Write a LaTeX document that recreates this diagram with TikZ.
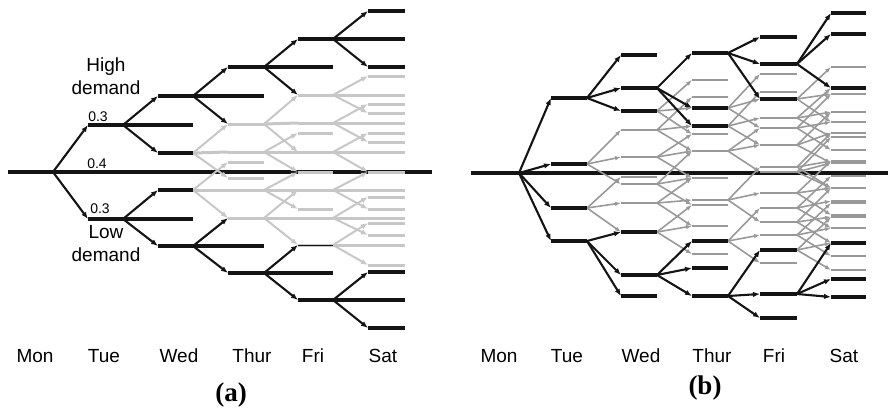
\documentclass[tikz,border=0pt]{standalone}
\usepackage{fontspec}
\setmainfont{Liberation Sans}
\newfontfamily\capfont{Liberation Serif}
\usetikzlibrary{arrows.meta}
\definecolor{lg}{gray}{0.78}
\definecolor{mg}{gray}{0.6}
\definecolor{bk}{gray}{0.08}
\tikzset{
  bseg/.style={draw=bk, line width=3.2pt},
  barr/.style={draw=bk, line width=2.1pt, -{Latex[length=7pt,width=5.5pt]}},
  gsegA/.style={draw=lg, line width=3pt},
  garrA/.style={draw=lg, line width=2pt, -{Latex[length=7pt,width=5.5pt]}},
  gsegB/.style={draw=mg, line width=2.4pt},
  garrB/.style={draw=mg, line width=1.6pt, -{Latex[length=6pt,width=4.5pt]}},
  daylbl/.style={font=\fontsize{19}{22}\selectfont, anchor=base},
  problbl/.style={font=\fontsize{14}{16}\selectfont},
  demlbl/.style={font=\fontsize{19}{23}\selectfont, align=center},
  caplbl/.style={font=\capfont\bfseries\fontsize{27}{30}\selectfont, anchor=base}
}
\begin{document}
\begin{tikzpicture}[x=1pt,y=-1pt]
\path[use as bounding box] (0,0) rectangle (889,410);

% ================= panel (a) =================
\coordinate (aM0) at (8,172);
\coordinate (aM1) at (432,172);
\coordinate (aR) at (53,172);
\foreach \y in {125,219} {\coordinate (aT\y-s) at (88,\y); \coordinate (aT\y-e) at (123,\y);}
\foreach \y in {96,125,153,190,219,246} {\coordinate (aW\y-s) at (158,\y); \coordinate (aW\y-e) at (193,\y);}
\foreach \y in {67,96,124,152,162,178,190,218,246,273} {\coordinate (aH\y-s) at (228,\y); \coordinate (aH\y-e) at (264,\y);}
\foreach \y in {39,67,95,123,133,152,172,190,209,218,245,273,300} {\coordinate (aF\y-s) at (298,\y); \coordinate (aF\y-e) at (333,\y);}
\foreach \y in {11,39,67,76,95,104,113,123,133,142,152,172,190,197,209,218,223,235,245,265,272,300,328} {\coordinate (aS\y-s) at (368,\y); \coordinate (aS\y-e) at (405,\y);}

\draw[bseg] (aM0) -- (aM1);

% gray lattice
\foreach \n in {H124,H152,H162,H178,H190,H218,F95,F123,F133,F152,F172,F190,F209,F218,F245,S76,S95,S104,S113,S123,S133,S142,S152,S172,S190,S197,S209,S218,S223,S235,S245,S265}
  \draw[gsegA] (a\n-s) -- (a\n-e);
\foreach \p/\c in {W153/H152,W190/H190,H124/F123,H152/F152,H190/F190,H218/F218,F95/S95,F123/S123,F152/S152,F190/S190,F218/S218,F245/S245}
  \draw[gsegA] (a\p-e) -- (a\c-s);
\foreach \p/\c in {W153/H124,W153/H178,W190/H162,W190/H218,H124/F95,H124/F152,H152/F133,H152/F172,H190/F172,H190/F209,H218/F190,H218/F245,F95/S76,F95/S113,F123/S104,F123/S142,F152/S133,F152/S172,F190/S172,F190/S209,F218/S197,F218/S235,F245/S223,F245/S265}
  \draw[garrA] (a\p-e) -- (a\c-s);

% black paths
\foreach \n in {T125,T219,W96,W125,W153,W190,W219,W246,H67,H96,H246,H273,F39,F67,F273,F300,S11,S39,S67,S272,S300,S328}
  \draw[bseg] (a\n-s) -- (a\n-e);
\draw[draw=bk, line width=1pt] (aF245-s) -- (aF245-e);
\foreach \p/\c in {T125/W125,T219/W219,W96/H96,W246/H246,H67/F67,H273/F273,F39/S39,F300/S300}
  \draw[bseg] (a\p-e) -- (a\c-s);
\draw[barr] (aR) -- (aT125-s);
\draw[barr] (aR) -- (aT219-s);
\foreach \p/\c in {T125/W96,T125/W153,T219/W190,T219/W246,W96/H67,W96/H124,W246/H218,W246/H273,H67/F39,H67/F95,H273/F245,H273/F300,F39/S11,F39/S67,F300/S272,F300/S328}
  \draw[barr] (a\p-e) -- (a\c-s);

% labels (a)
\node[demlbl] (aHigh) at (106,76) {High\\demand};
\node[problbl] (aP1) at (98,117) {0.3};
\node[problbl] (aP2) at (97,164) {0.4};
\node[problbl] (aP3) at (100,209) {0.3};
\node[demlbl] (aLow) at (106,244) {Low\\demand};

\node[daylbl] (aMon) at (35,362) {Mon};
\node[daylbl] (aTue) at (104,362) {Tue};
\node[daylbl] (aWed) at (179,362) {Wed};
\node[daylbl] (aThu) at (252,362) {Thur};
\node[daylbl] (aFri) at (313,362) {Fri};
\node[daylbl] (aSat) at (383,362) {Sat};
\node[caplbl] (aCap) at (231,401) {(a)};

% ================= panel (b) =================
\coordinate (bM0) at (471,173);
\coordinate (bM1) at (888,173);
\coordinate (bR) at (519,173);
\foreach \y in {98,164,208,241} {\coordinate (bT\y-s) at (551,\y); \coordinate (bT\y-e) at (587,\y);}
\foreach \y in {55,88,111,130,157,177,184,203,232,275,296} {\coordinate (bW\y-s) at (621,\y); \coordinate (bW\y-e) at (657,\y);}
\foreach \y in {53,80,97,108,126,134,151,178,200,205,226,241,254,268,296} {\coordinate (bH\y-s) at (692,\y); \coordinate (bH\y-e) at (728,\y);}
\foreach \y in {37,64,74,92,99,118,128,145,167,172,193,208,222,235,250,263,294,318} {\coordinate (bF\y-s) at (760,\y); \coordinate (bF\y-e) at (797,\y);}
\foreach \y in {13,34,67,88,94,112,122,133,137,150,161,163,176,188,201,203,215,217,228,243,256,270,279,297} {\coordinate (bS\y-s) at (831,\y); \coordinate (bS\y-e) at (866,\y);}

\draw[bseg] (bM0) -- (bM1);

% gray tree
\foreach \n in {W130,W157,W177,W184,W203,H80,H97,H134,H151,H178,H200,H205,H226,H254,F74,F92,F118,F128,F145,F167,F172,F193,F208,F222,F235,F263,S67,S94,S112,S122,S133,S137,S150,S161,S163,S176,S188,S201,S203,S215,S217,S228,S256,S270}
  \draw[gsegB] (b\n-s) -- (b\n-e);
\foreach \p/\c in {T164/W130,T164/W157,T164/W184,T208/W177,T208/W203,T208/W232,
  W111/H80,W111/H108,W111/H134,W130/H97,W130/H126,W130/H151,W157/H134,W157/H151,W157/H178,
  W184/H151,W184/H178,W184/H205,W203/H178,W203/H200,W203/H226,W232/H205,W232/H226,W232/H254,
  H108/F74,H108/F99,H108/F128,H126/F92,H126/F118,H126/F145,H151/F128,H151/F145,H151/F172,
  H200/F167,H200/F193,H200/F222,H241/F208,H241/F235,H241/F263,
  F99/S67,F99/S94,F99/S122,F118/S88,F118/S112,F118/S137,F128/S94,F128/S122,F128/S150,
  F145/S112,F145/S133,F145/S163,F167/S133,F167/S161,F167/S188,F172/S137,F172/S163,F172/S188,
  F193/S161,F193/S188,F193/S215,F208/S176,F208/S201,F208/S228,F222/S188,F222/S217,F222/S243,
  F235/S203,F235/S228,F235/S256,F250/S217,F250/S243,F250/S270}
  \draw[garrB] (b\p-e) -- (b\c-s);

% black paths
\foreach \n in {T98,T164,T208,T241,W55,W88,W111,W232,W275,W296,H53,H108,H126,H241,H268,H296,F37,F64,F99,F250,F294,F318,S13,S34,S88,S243,S279,S297}
  \draw[bseg] (b\n-s) -- (b\n-e);
\foreach \c in {T98,T164,T208,T241}
  \draw[barr] (bR) -- (b\c-s);
\foreach \p/\c in {T98/W55,T98/W88,T98/W111,T241/W232,T241/W275,T241/W296,W88/H53,W88/H108,W88/H126,W275/H241,W275/H268,W275/H296,H53/F37,H53/F64,H53/F99,H296/F250,H296/F294,H296/F318,F64/S13,F64/S34,F64/S88,F294/S243,F294/S279,F294/S297}
  \draw[barr] (b\p-e) -- (b\c-s);

% labels (b)
\node[daylbl] (bMon) at (499,362) {Mon};
\node[daylbl] (bTue) at (567,362) {Tue};
\node[daylbl] (bWed) at (641,362) {Wed};
\node[daylbl] (bThu) at (712,362) {Thur};
\node[daylbl] (bFri) at (774,362) {Fri};
\node[daylbl] (bSat) at (844,362) {Sat};
\node[caplbl] (bCap) at (705,394) {(b)};
\end{tikzpicture}
\end{document}
